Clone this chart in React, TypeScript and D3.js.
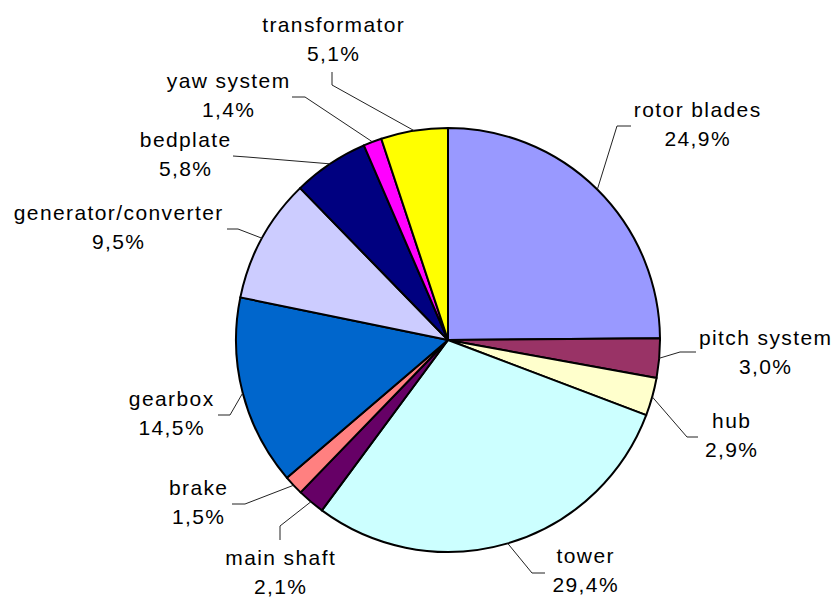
import React from "react";
import * as d3 from "d3";

const categories = [
  "rotor blades",
  "pitch system",
  "hub",
  "tower",
  "main shaft",
  "brake",
  "gearbox",
  "generator/converter",
  "bedplate",
  "yaw system",
  "transformator",
];
const values = [24.9, 3.0, 2.9, 29.4, 2.1, 1.5, 14.5, 9.5, 5.8, 1.4, 5.1];
const valueLabels = ["24,9%", "3,0%", "2,9%", "29,4%", "2,1%", "1,5%", "14,5%", "9,5%", "5,8%", "1,4%", "5,1%"];

const colors = [
  "#9999FF", "#993366", "#FFFFCC", "#CCFFFF", "#660066", "#FF8080",
  "#0066CC", "#CCCCFF", "#000080", "#FF00FF", "#FFFF00",
];

// label layout: text centre x, first baseline y, leader start, leader elbow
const labelLayout = [
  { tx: 697, ty: 117, s: [631, 126], e: [617, 126] },
  { tx: 765, ty: 345, s: [696, 352], e: [680, 352] },
  { tx: 731, ty: 428, s: [698, 437], e: [687, 437] },
  { tx: 585, ty: 563, s: [545, 573], e: [532, 573] },
  { tx: 280, ty: 565, s: [280, 540], e: [280, 526] },
  { tx: 198, ty: 495, s: [232, 504], e: [245, 504] },
  { tx: 171, ty: 406, s: [218, 415], e: [230, 415] },
  { tx: 118, ty: 220, s: [227, 229], e: [238, 229] },
  { tx: 185, ty: 147, s: [233, 156], e: [247, 157] },
  { tx: 228, ty: 88, s: [292, 97], e: [305, 97] },
  { tx: 333, ty: 32, s: [332, 72], e: [332, 85] },
];

const W = 832;
const H = 599;
const cx = 448;
const cy = 340;
const R = 212;

export default function App() {
  const pie = d3.pie<number>().sort(null).value((d) => d)(values);
  const arc = d3.arc<d3.PieArcDatum<number>>().innerRadius(0).outerRadius(R);
  const edge = d3.arc<d3.PieArcDatum<number>>().innerRadius(R).outerRadius(R);

  return (
    <svg
      width={W}
      height={H}
      style={{ position: "absolute", left: 0, top: 0, background: "#fff" }}
      fontFamily="'Liberation Sans', Arial, sans-serif"
    >
      <g transform={`translate(${cx},${cy})`}>
        {pie.map((p, i) => (
          <path key={i} d={arc(p) || ""} fill={colors[i]} stroke="#000" strokeWidth={2} strokeLinejoin="round" />
        ))}
      </g>
      {pie.map((p, i) => {
        const L = labelLayout[i];
        const [px, py] = edge.centroid(p);
        return (
          <g key={i}>
            <polyline
              points={`${L.s[0]},${L.s[1]} ${L.e[0]},${L.e[1]} ${px + cx},${py + cy}`}
              fill="none"
              stroke="#222"
              strokeWidth={1}
            />
            <text x={L.tx + 0.7} y={L.ty} textAnchor="middle" fontSize={21} letterSpacing={1.4} fill="#000">
              {categories[i]}
            </text>
            <text x={L.tx + 0.7} y={L.ty + 29} textAnchor="middle" fontSize={21} letterSpacing={1.4} fill="#000">
              {valueLabels[i]}
            </text>
          </g>
        );
      })}
    </svg>
  );
}
